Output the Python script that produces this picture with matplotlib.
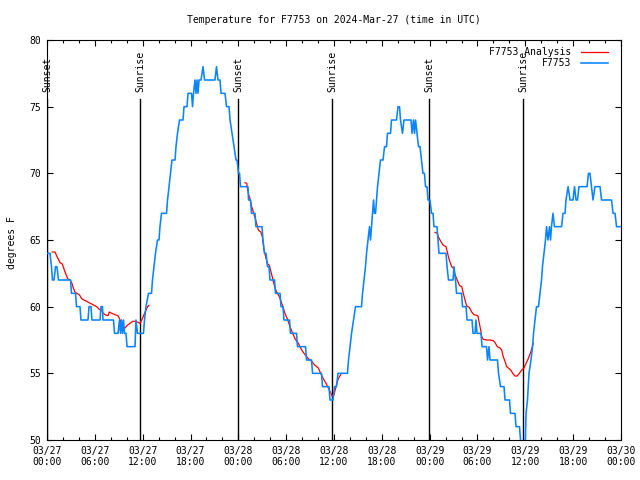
import matplotlib.pyplot as plt
from matplotlib.ticker import MultipleLocator

# time axis is hours since 2024-03-27 00:00 UTC
obs_hours = [0.06, 0.38, 0.56, 0.69, 0.88, 1.07, 1.25, 1.44, 2.95, 3.07, 3.58, 3.70, 4.14, 4.26, 5.14, 5.27,
             5.52, 5.64, 6.65, 6.77, 6.96, 7.02, 8.34, 8.47, 8.91, 9.09, 9.22, 9.35, 9.47, 9.60, 9.72, 9.91,
             10.04, 11.04, 11.16, 11.35, 12.10, 12.23, 12.42, 12.73, 13.11, 13.23, 13.42, 13.61, 13.86, 14.05,
             14.17, 14.36, 14.99, 15.12, 15.30, 15.49, 15.68, 16.06, 16.18, 16.37, 16.62, 17.06, 17.19, 17.56,
             17.69, 18.13, 18.25, 18.38, 18.56, 18.69, 18.82, 18.94, 19.07, 19.32, 19.57, 19.76, 21.07, 21.26,
             21.45, 21.70, 21.83, 22.33, 22.52, 22.83, 22.96, 23.21, 23.46, 23.71, 23.84, 24.02, 24.15, 24.27,
             25.21, 25.28, 25.53, 25.65, 26.09, 26.21, 26.97, 27.09, 27.28, 27.47, 27.66, 27.85, 27.97, 28.54,
             28.66, 29.23, 29.35, 29.60, 29.73, 30.42, 30.54, 31.30, 31.42, 32.43, 32.55, 33.18, 33.31, 34.43,
             34.56, 35.37, 35.50, 35.88, 36.06, 36.31, 36.50, 37.69, 37.82, 38.01, 38.20, 38.45, 38.70, 39.45,
             39.58, 39.76, 39.95, 40.08, 40.27, 40.45, 40.58, 40.71, 40.83, 40.96, 41.08, 41.21, 41.33, 41.46,
             41.65, 41.83, 42.15, 42.34, 42.59, 42.71, 43.09, 43.21, 43.84, 44.03, 44.22, 44.34, 44.59, 44.78,
             45.66, 45.79, 45.97, 46.10, 46.23, 46.41, 46.60, 46.79, 46.98, 47.16, 47.35, 47.48, 47.67, 47.79,
             48.04, 48.23, 48.42, 48.54, 48.92, 49.05, 49.17, 50.05, 50.18, 50.36, 50.93, 51.05, 51.24, 51.37,
             52.00, 52.12, 52.56, 52.69, 53.31, 53.44, 53.69, 53.81, 53.94, 54.44, 54.57, 55.13, 55.26, 55.44,
             55.57, 56.51, 56.64, 56.89, 57.33, 57.45, 58.02, 58.14, 58.71, 58.83, 59.27, 59.40, 59.52, 59.96,
             60.09, 60.27, 60.46, 60.71, 60.90, 61.03, 61.21, 61.40, 61.65, 61.84, 62.03, 62.15, 62.34, 62.53,
             62.66, 62.84, 63.03, 63.16, 63.28, 63.47, 63.66, 64.54, 64.73, 64.98, 65.10, 65.36, 65.61, 65.98,
             66.17, 66.36, 66.54, 66.73, 67.74, 67.92, 68.11, 68.30, 68.49, 68.74, 69.37, 69.56, 70.81, 71.00,
             71.25, 71.44, 71.88]
obs_temp = [64, 64, 63, 62, 62, 63, 63, 62, 62, 61, 61, 60, 60, 59, 59, 60,
            60, 59, 59, 60, 60, 59, 59, 58, 58, 59, 58, 59, 58, 59, 58, 58,
            57, 57, 59, 58, 58, 59, 60, 61, 61, 62, 63, 64, 65, 65,
            66, 67, 67, 68, 69, 70, 71, 71, 72, 73, 74, 74, 75, 75,
            76, 76, 75, 76, 77, 76, 77, 76, 77, 77, 78, 77, 77, 78,
            77, 77, 76, 76, 75, 75, 74, 73, 72, 71, 71, 70, 70, 69,
            69, 68, 68, 67, 67, 66, 66, 65, 64, 64, 63, 63, 62, 62,
            61, 61, 60, 60, 59, 59, 58, 58, 57, 57, 56, 56, 55, 55,
            54, 54, 53, 53, 54, 54, 55, 55, 56, 57, 58, 59, 60, 60,
            61, 62, 63, 64, 65, 66, 65, 66, 67, 68, 67, 67, 68, 69,
            70, 71, 71, 72, 72, 73, 73, 74, 74, 75, 75, 74, 73, 74,
            74, 73, 74, 73, 74, 73, 72, 72, 71, 70, 70, 69, 69, 68,
            68, 67, 67, 66, 66, 65, 64, 64, 63, 62, 62, 63, 62, 61,
            61, 60, 60, 59, 59, 58, 58, 59, 58, 58, 57, 57, 56, 57,
            56, 56, 55, 54, 54, 53, 53, 52, 52, 51, 51, 50, 49, 49,
            52, 53, 55, 56, 57, 58, 59, 60, 60, 61, 62, 63, 64, 65,
            66, 65, 66, 65, 66, 67, 66, 66, 67, 67, 68, 69, 68, 68,
            69, 68, 68, 69, 69, 70, 70, 69, 68, 69, 69, 68, 68, 67,
            67, 66, 66]

# analysis, three separate runs
ana1_hours = [0.66, 1.00, 1.22, 1.63, 1.92, 2.26, 2.60, 2.89, 3.10, 3.30, 3.51, 3.73, 4.05, 4.35, 4.64, 4.98,
              5.27, 5.61, 5.93, 6.23, 6.56, 6.86, 7.06, 7.28, 7.49, 7.69, 7.81, 8.12, 8.53, 8.94, 9.16, 9.37,
              9.57, 9.78, 10.07, 10.41, 10.75, 11.04, 11.33, 11.67, 11.88, 12.17, 12.42, 12.63, 12.79]
ana1_temp = [64.1, 64.1, 63.8, 63.3, 63.2, 62.6, 62.1, 62.0, 61.8, 61.4, 61.1, 61.0, 60.9, 60.6, 60.5, 60.4,
             60.3, 60.2, 60.1, 60.0, 59.8, 59.7, 59.5, 59.4, 59.35, 59.35, 59.6, 59.5, 59.4, 59.3, 59.0, 58.7,
             58.5, 58.4, 58.6, 58.75, 58.9, 58.9, 58.85, 58.75, 59.0, 59.4, 59.75, 60.0, 60.1]
ana2_hours = [24.84, 25.05, 25.25, 25.46, 25.68, 25.88, 26.18, 26.51, 26.81, 27.01, 27.22, 27.43, 27.63, 27.89,
              28.10, 28.31, 28.60, 28.81, 29.14, 29.44, 29.64, 29.85, 30.14, 30.48, 30.82, 31.11, 31.52, 31.95,
              32.36, 32.78, 33.20, 33.62, 34.03, 34.33, 34.66, 35.00, 35.29, 35.62, 35.79, 36.00, 36.25, 36.54,
              36.84]
ana2_temp = [69.3, 69.25, 68.5, 68.1, 67.5, 67.1, 66.5, 65.75, 65.6, 65.25, 64.25, 63.75, 63.25, 63.1,
             62.6, 62.1, 61.4, 61.1, 60.75, 60.25, 59.9, 59.5, 59.1, 58.5, 58.0, 57.6, 57.25, 56.75,
             56.4, 56.1, 55.9, 55.6, 55.4, 55.0, 54.6, 54.25, 53.9, 53.5, 53.25, 53.4, 54.0, 54.6,
             54.9]
ana3_hours = [48.67, 48.96, 49.08, 49.39, 49.71, 50.05, 50.21, 50.46, 50.76, 50.96, 51.18, 51.46, 51.72, 52.02,
              52.22, 52.43, 52.65, 52.97, 53.27, 53.56, 53.90, 54.06, 54.23, 54.40, 54.53, 54.73, 55.16, 55.57,
              55.98, 56.20, 56.48, 56.82, 57.03, 57.23, 57.45, 57.66, 57.86, 58.17, 58.42, 58.70, 58.99, 59.25,
              59.55, 59.83, 60.09, 60.37, 60.68, 60.88, 61.00]
ana3_temp = [65.57, 65.5, 65.25, 64.9, 64.6, 64.5, 64.1, 63.5, 63.0, 62.9, 62.4, 62.0, 61.6, 61.5,
             61.0, 60.5, 60.05, 59.95, 59.6, 59.4, 59.35, 59.3, 58.75, 58.25, 57.75, 57.55, 57.5, 57.5,
             57.45, 57.3, 57.0, 56.9, 56.75, 56.25, 55.9, 55.5, 55.4, 55.25, 55.0, 54.8, 54.8, 55.0,
             55.25, 55.4, 55.75, 56.1, 56.6, 57.0, 57.25]

event_names = ["Sunset", "Sunrise", "Sunset", "Sunrise", "Sunset", "Sunrise"]
event_hours = [0.0, 11.67, 23.98, 35.77, 47.94, 59.72]

tick_hours = list(range(0, 73, 6))
tick_labels = ["03/27\n00:00", "03/27\n06:00", "03/27\n12:00", "03/27\n18:00",
               "03/28\n00:00", "03/28\n06:00", "03/28\n12:00", "03/28\n18:00",
               "03/29\n00:00", "03/29\n06:00", "03/29\n12:00", "03/29\n18:00",
               "03/30\n00:00"]

plt.rcParams['font.family'] = ['DejaVu Sans Mono']
plt.rcParams['font.size'] = 7

fig = plt.figure(figsize=(6.4, 4.8), dpi=100)
ax = fig.add_axes([47 / 640, 40 / 480, 574 / 640, 400 / 480])

# sunrise / sunset markers
for name, h in zip(event_names, event_hours):
    ax.plot([h, h], [50, 75.6], color='black', lw=1.0, zorder=1)
    ax.text(h, 76.1, name, rotation=90, ha='center', va='bottom', fontsize=7)

red = '#ff0000'
blue = '#0a84ff'
ax.plot(ana1_hours, ana1_temp, color=red, lw=0.9, zorder=2)
ax.plot(ana2_hours, ana2_temp, color=red, lw=0.9, zorder=2)
ax.plot(ana3_hours, ana3_temp, color=red, lw=0.9, zorder=2)
ax.plot(obs_hours, obs_temp, color=blue, lw=1.15, zorder=3)

ax.set_xlim(0, 72)
ax.set_ylim(50, 80)
ax.set_xticks(tick_hours)
ax.set_xticklabels(tick_labels)
ax.xaxis.set_minor_locator(MultipleLocator(2))
ax.set_yticks(range(50, 81, 5))
ax.tick_params(which='both', direction='in', top=True, right=True, width=0.8)
ax.tick_params(which='major', length=4.5, pad=4)
ax.tick_params(which='minor', length=2.2)
for s in ax.spines.values():
    s.set_linewidth(0.8)

# gnuplot-style key: text then sample line, right aligned
key_rows = [("F7753 Analysis", red), ("F7753", blue)]
for i, (label, c) in enumerate(key_rows):
    y = 0.971 - i * 0.029
    ax.text(0.914, y, label, transform=ax.transAxes, ha='right', va='center', fontsize=7)
    ax.plot([0.930, 0.978], [y, y], transform=ax.transAxes, color=c, lw=0.9 if i == 0 else 1.15)

fig.text(0.522, 0.958, "Temperature for F7753 on 2024-Mar-27 (time in UTC)", ha='center', va='center', fontsize=7)
fig.text(0.019, 0.494, "degrees F", rotation=90, ha='center', va='center', fontsize=7)

fig.savefig('out.png', dpi=100)
